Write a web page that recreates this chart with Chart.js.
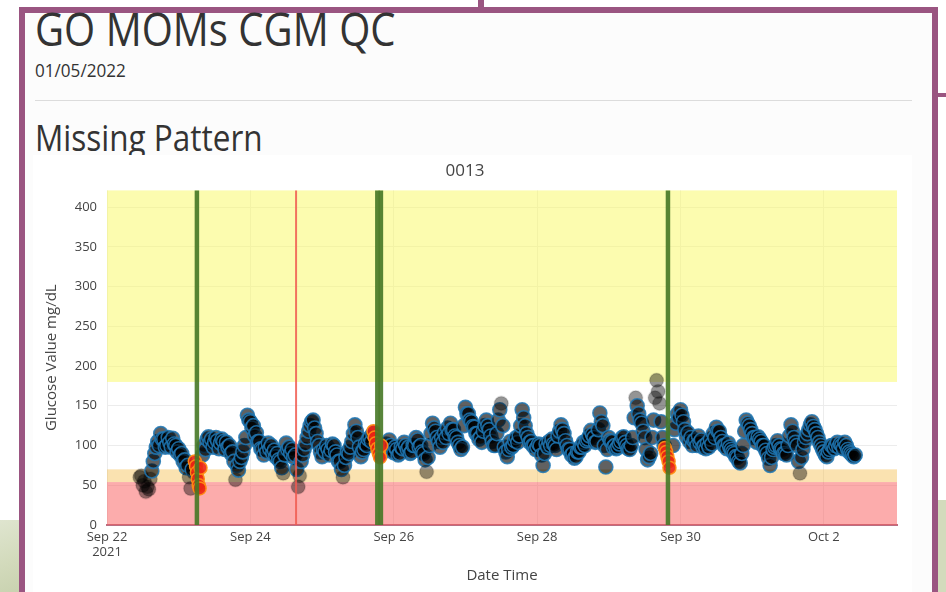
<!DOCTYPE html>
<html><head><meta charset="utf-8">
<script src="https://cdn.jsdelivr.net/npm/chart.js@4.4.1/dist/chart.umd.min.js"></script>
<style>
html,body{margin:0;padding:0;}
body{width:946px;height:592px;overflow:hidden;position:relative;background:#fff;font-family:'Open Sans',sans-serif;}
.bgl{position:absolute;left:0;top:520px;width:19px;height:72px;background:linear-gradient(160deg,#dfe5cf 0%,#d2dabb 60%,#c9d2b0 100%);}
.bgr{position:absolute;left:938px;top:500px;width:8px;height:92px;background:#d3dbbc;}
.stub{position:absolute;left:478px;top:0;width:6px;height:10px;background:#9a5581;}
.rline{position:absolute;left:938px;top:93px;width:8px;height:4px;background:#9a5581;}
.frame{position:absolute;left:19px;top:7px;width:919px;height:640px;box-sizing:border-box;border:6px solid #9a5581;background:#fcfcfc;}
.t{position:absolute;margin:0;color:#333;white-space:nowrap;font-weight:400;transform-origin:0 0;}
#h1{left:35px;top:6px;font-size:45px;line-height:45px;transform:scaleX(0.89);}
#dt{left:35px;top:61px;font-size:18px;line-height:18px;transform:scaleX(0.95);}
#hr{position:absolute;left:35px;top:100px;width:877px;height:1px;background:#dcdcdc;}
#h2{left:35px;top:120px;font-size:36px;line-height:36px;transform:scaleX(0.875);}
#c{position:absolute;left:33px;top:155px;background:#fff;}
</style></head>
<body>
<div class="bgl"></div><div class="bgr"></div><div class="stub"></div><div class="rline"></div>
<div class="frame"></div>
<h1 class="t" id="h1">GO MOMs CGM QC</h1>
<div class="t" id="dt">01/05/2022</div>
<div id="hr"></div>
<h2 class="t" id="h2">Missing Pattern</h2>
<canvas id="c" width="879" height="437"></canvas>
<script>
// ---- data ----
const chartTitle = '0013';
const xAxisTitle = 'Date Time';
const yAxisTitle = 'Glucose Value mg/dL';
const xTickDays = [0, 2, 4, 6, 8, 10];            // days after Sep 22 2021 00:00
const xTickLabels = [['Sep 22', '2021'], 'Sep 24', 'Sep 26', 'Sep 28', 'Sep 30', 'Oct 2'];
const yTicks = [0, 50, 100, 150, 200, 250, 300, 350, 400];
const firstHour = 11;      // first reading: hours after Sep 22 00:00
const stepHours = 0.5;     // spacing of readings below
const glucose = [
  60, 62, 50, 55, 42, 48, 45, 58, 68, 80, 90, 98,
  105, 100, 115, 108, 108, 98, 100, 110, 104, 98, 109, 102,
  100, 92, 96, 88, 90, 80, 82, 72, 75, 60, 46, 70,
  66, null, null, null, null, null, 88, 100, 95, 108, 111, 104,
  108, 98, 104, 110, 106, 96, 103, 108, 105, 95, 104, 98,
  100, 90, 92, 80, 57, 75, 69, 80, 85, 92, 100, 110,
  138, 132, 130, 122, 125, 112, 116, 105, 105, 96, 95, 88,
  98, 92, 103, 96, 100, 90, 94, 86, 90, 82, 80, 72,
  65, 88, 103, 95, 98, 90, 95, 85, 88, 70, 48, 62,
  80, 88, 95, 102, 110, 118, 125, 130, 132, 122, 115, 105,
  100, 92, 86, 95, 92, 100, 95, 88, 94, 102, 100, 92,
  88, 80, 80, 70, 60, 75, 85, 92, 90, 98, 105, 115,
  126, 118, 110, 98, 86, 92, 95, 102, 100, 108, 110, 105,
  115, null, null, null, null, null, null, 92, 95, 102, 100, 107,
  100, 94, 91, 98, 95, 88, 90, 98, 96, 104, 100, 95,
  98, 90, 92, 100, 100, 110, 107, 98, 100, 92, 90, 82,
  67, 85, 100, 115, 128, 122, 118, 110, 105, 98, 110, 104,
  116, 110, 122, 115, 128, 120, 120, 112, 110, 104, 100, 95,
  98, 125, 148, 140, 140, 132, 130, 124, 123, 115, 115, 108,
  110, 104, 118, 125, 132, 125, 120, 112, 105, 100, 100, 115,
  132, 145, 153, 125, 98, 92, 86, 95, 105, 98, 100, 106,
  110, 104, 112, 125, 145, 135, 125, 115, 110, 104, 105, 100,
  100, 95, 98, 102, 100, 88, 75, 90, 102, 98, 105, 100,
  108, 102, 100, 95, 112, 118, 126, 120, 115, 106, 100, 95,
  95, 88, 90, 84, 86, 92, 92, 98, 98, 104, 100, 106,
  108, 112, 119, 114, 110, 104, 105, 120, 141, 130, 125, 100,
  73, 95, 110, 106, 105, 98, 100, 96, 98, 102, 105, 110,
  111, 104, 100, 96, 95, 100, 110, 135, 160, 150, 140, 132,
  128, 118, 110, 95, 82, 86, 90, 110, 132, 160, 182, 168,
  153, 130, 110, 100, null, null, null, null, null, 100, 120, 128,
  140, 135, 145, 138, 130, 120, 111, 116, 105, 110, 100, 106,
  107, 100, 112, 104, 107, 98, 100, 96, 103, 98, 108, 102,
  115, 110, 123, 118, 118, 110, 105, 100, 100, 96, 103, 98,
  95, 92, 90, 86, 85, 80, 78, 90, 100, 118, 132, 128,
  125, 120, 115, 110, 110, 104, 111, 108, 105, 100, 100, 94,
  90, 84, 75, 85, 95, 98, 100, 106, 100, 96, 95, 90,
  90, 88, 100, 112, 126, 118, 110, 104, 100, 80, 65, 85,
  95, 104, 110, 115, 120, 126, 130, 124, 120, 115, 110, 104,
  100, 96, 92, 88, 86, 92, 95, 100, 100, 96, 100, 104,
  98, 102, 100, 96, 104, 100, 95, 92, 90, 88, 86, 88
];
const flaggedHours  = [29.4, 29.8, 30.1, 30.4, 30.7, 31.0, 31.3, 89.2, 89.6, 90.0, 90.5, 91.0, 91.4, 91.8, 186.8, 187.2, 187.6, 188.0, 188.3];
const flaggedValues = [80, 74, 66, 58, 50, 46, 72, 118, 110, 103, 96, 90, 85, 100, 97, 92, 86, 80, 72];
const gapGreenHours = [30.1, 90.5, 91.7, 187.8];
const gapRedHours = [63.3];
const bandFrom = [180, 54, 0];
const bandTo   = [421, 70, 54];
const inRangeLow = 68, inRangeHigh = 150;
const yMax = 421, xMaxDays = 11.02;

// ---- build ----
const allPts = [];
glucose.forEach((v, i) => {
  if (v === null) return;
  allPts.push({x: (firstHour + i * stepHours) / 24, y: v});
});
const flagPts = flaggedHours.map((h, i) => ({x: h / 24, y: flaggedValues[i]}));

const bandColors = ['rgba(250,250,110,0.55)', 'rgba(245,190,80,0.45)', 'rgba(250,90,90,0.5)'];
const bandPlugin = {
  id: 'bands',
  beforeDatasetsDraw(chart) {
    const {ctx, chartArea: a, scales: {y}} = chart;
    ctx.save();
    bandFrom.forEach((f, i) => {
      const top = y.getPixelForValue(bandTo[i]), bot = y.getPixelForValue(f);
      ctx.fillStyle = bandColors[i];
      ctx.fillRect(a.left, top, a.right - a.left, bot - top);
    });
    ctx.restore();
  },
  afterDatasetsDraw(chart) {
    const {ctx, chartArea: a, scales: {x}} = chart;
    ctx.save();
    const line = (h, color, w) => {
      const px = x.getPixelForValue(h / 24);
      ctx.strokeStyle = color; ctx.lineWidth = w;
      ctx.beginPath(); ctx.moveTo(px, a.top); ctx.lineTo(px, a.bottom); ctx.stroke();
    };
    gapGreenHours.forEach(h => line(h, 'rgba(70,120,38,0.9)', 4.5));
    gapRedHours.forEach(h => line(h, 'rgba(240,90,80,0.85)', 2));
    ctx.restore();
  }
};

const inRange = (ctx) => {
  const v = ctx.raw && ctx.raw.y;
  return v >= inRangeLow && v <= inRangeHigh;
};
const font = (s) => ({family: "'Open Sans', sans-serif", size: s, weight: 'normal'});
new Chart(document.getElementById('c'), {
  type: 'scatter',
  data: {datasets: [
    {label: 'flagged', data: flagPts, order: 0, pointRadius: 6.5, pointBackgroundColor: 'rgba(235,35,20,0.9)', pointBorderColor: 'rgba(255,140,20,0.95)', pointBorderWidth: 1.5},
    {label: 'glucose', data: allPts, order: 1, pointRadius: 7,
     pointBackgroundColor: (c) => inRange(c) ? 'rgba(0,0,0,0.62)' : 'rgba(0,0,0,0.42)',
     pointBorderColor: (c) => inRange(c) ? 'rgba(31,119,180,0.85)' : 'rgba(0,0,0,0.12)',
     pointBorderWidth: 1.6}
  ]},
  options: {
    responsive: false, animation: false, devicePixelRatio: 1,
    layout: {padding: {left: 0, right: 15, top: 0, bottom: 0}},
    plugins: {
      legend: {display: false}, tooltip: {enabled: false},
      title: {display: true, text: chartTitle, color: '#444', font: font(17), padding: {top: 6, bottom: 9}}
    },
    scales: {
      x: {
        type: 'linear', min: 0, max: xMaxDays,
        afterBuildTicks(s) { s.ticks = xTickDays.map(v => ({value: v})); },
        afterFit(s) { s.height = 67; },
        ticks: {callback: (v) => xTickLabels[xTickDays.indexOf(v)], color: '#444', font: font(13), padding: 4, maxRotation: 0, autoSkip: false},
        grid: {color: '#ececec', drawTicks: false},
        border: {display: true, color: 'rgb(185,110,130)', width: 2},
        title: {display: true, text: xAxisTitle, color: '#444', font: font(15), padding: {top: 0, bottom: 7}}
      },
      y: {
        min: 0, max: yMax,
        afterBuildTicks(s) { s.ticks = yTicks.map(v => ({value: v})); },
        afterFit(s) { s.width = 74; },
        ticks: {color: '#444', font: font(13), padding: 10},
        grid: {color: '#ececec', drawTicks: false},
        border: {display: false},
        title: {display: true, text: yAxisTitle, color: '#444', font: font(15), padding: {top: 10, bottom: 0}}
      }
    }
  },
  plugins: [bandPlugin]
});
</script>
</body></html>
